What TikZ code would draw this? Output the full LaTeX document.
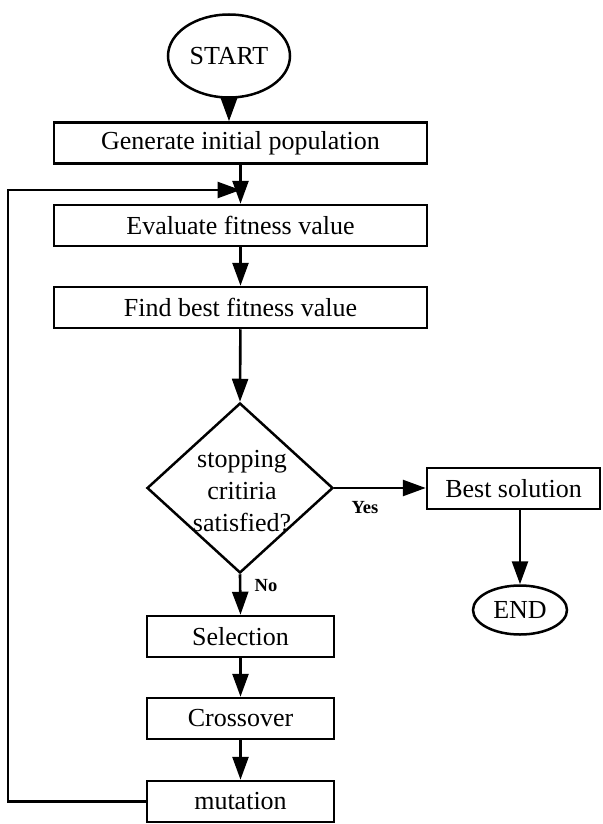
\documentclass[tikz,border=0pt]{standalone}
\usepackage{fontspec}
\setmainfont{Liberation Serif}
\usetikzlibrary{arrows.meta,shapes.geometric,calc}
\begin{document}
\begin{tikzpicture}[x=1pt,y=-1pt,
  every node/.style={font=\fontsize{26}{32}\selectfont, inner sep=0pt},
  box/.style={draw, line width=2.5pt, rectangle, minimum height=41pt},
  oval/.style={draw, line width=2.5pt, ellipse},
  arr/.style={line width=2.6pt, -{Triangle[length=23pt,width=16pt]}},
  lbl/.style={font=\fontsize{18.5}{22}\selectfont\bfseries}]
\useasboundingbox (0,0) rectangle (602,824);
\node[oval, minimum width=122pt, minimum height=83pt] (start) at (229,56) {START};
\node[box, minimum width=373pt] (gen) at (240.5,143) {Generate initial population};
\node[box, minimum width=373pt] (eval) at (240.5,225.5) {Evaluate fitness value};
\node[box, minimum width=373pt] (find) at (240.5,307.5) {Find best fitness value};
\node[draw, line width=2.5pt, diamond, minimum width=186pt, minimum height=170pt] (dec) at (240,488) {};
\node[align=center] (dectext) at (242,491) {stopping\\critiria\\satisfied?};
\node[box, minimum width=173pt] (best) at (513.5,488.5) {Best solution};
\node[oval, minimum width=94pt, minimum height=49pt] (end) at (520,610) {END};
\node[box, minimum width=187pt] (sel) at (240.5,636.5) {Selection};
\node[box, minimum width=187pt] (cross) at (240.5,718.5) {Crossover};
\node[box, minimum width=187pt] (mut) at (240.5,801.5) {mutation};
\coordinate (join) at (240.5,190);
\coordinate (corner) at (8,190);
\draw[arr] (start.south) -- (start.south |- gen.north);
\draw[arr] (gen) -- (eval);
\draw[arr] (eval) -- (find);
\draw[arr] (find) -- (dec.north);
\draw[arr] (dec.east) -- (dec.east -| best.west);
\draw[arr] (end.north |- best.south) -- (end.north);
\draw[arr] (dec.south) -- (sel.north);
\draw[arr] (sel) -- (cross);
\draw[arr] (cross) -- (mut);
\draw[arr] (mut.west) -| (corner) -- (join);
\node[lbl] (yes) at (365,508) {Yes};
\node[lbl] (no) at (266,586) {No};
\end{tikzpicture}
\end{document}
